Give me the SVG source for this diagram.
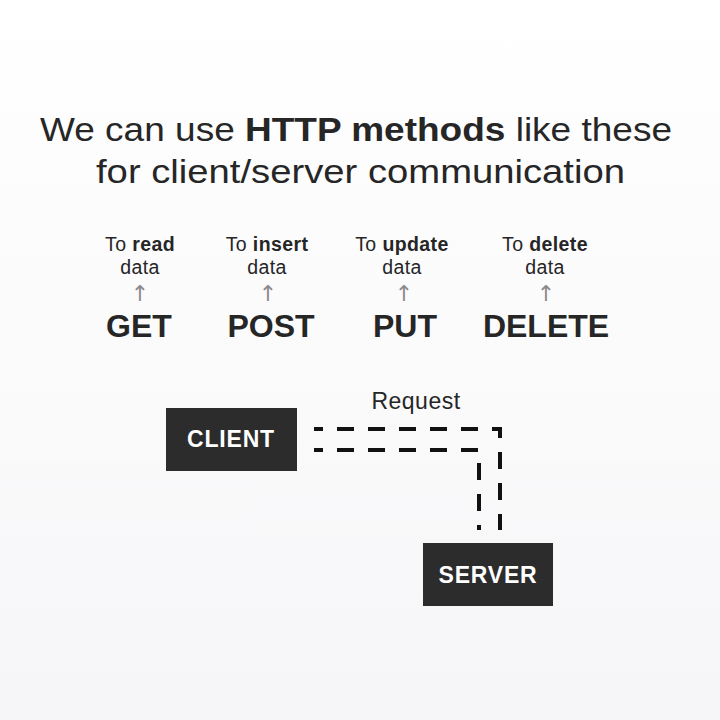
<svg xmlns="http://www.w3.org/2000/svg" width="720" height="720" viewBox="0 0 720 720">
<defs>
<linearGradient id="bg" x1="0" y1="0" x2="0" y2="1">
<stop offset="0" stop-color="#ffffff"/>
<stop offset="1" stop-color="#f6f6f8"/>
</linearGradient>
<style>
text{font-family:"Liberation Sans",Arial,sans-serif;fill:#262626}
.title{font-size:33px}
.b{font-weight:bold}
.lbl{font-size:19.5px;text-anchor:middle;letter-spacing:0.4px}
.arr{font-family:"DejaVu Sans",sans-serif;font-size:22px;text-anchor:middle;fill:#8a8a8a}
.m{font-size:32px;font-weight:bold;text-anchor:middle}
.box{fill:#2c2c2c}
.bt{font-size:23px;font-weight:bold;fill:#ffffff;text-anchor:middle;letter-spacing:0.8px}
.dash{fill:none;stroke:#111;stroke-width:4;stroke-dasharray:17 14}
</style>
</defs>
<rect width="720" height="720" fill="url(#bg)"/>
<g id="title">
<text class="title" x="40" y="141" textLength="632" lengthAdjust="spacingAndGlyphs">We can use <tspan class="b">HTTP methods</tspan> like these</text>
<text class="title" x="96" y="183" textLength="529" lengthAdjust="spacingAndGlyphs">for client/server communication</text>
</g>
<g id="get">
<text class="lbl" x="140" y="251">To <tspan class="b">read</tspan></text>
<text class="lbl" x="140" y="274">data</text>
<text class="arr" x="140" y="301">↑</text>
<text class="m" x="139" y="337">GET</text>
</g>
<g id="post">
<text class="lbl" x="267" y="251">To <tspan class="b">insert</tspan></text>
<text class="lbl" x="267" y="274">data</text>
<text class="arr" x="268" y="301">↑</text>
<text class="m" x="271" y="337">POST</text>
</g>
<g id="put">
<text class="lbl" x="402" y="251">To <tspan class="b">update</tspan></text>
<text class="lbl" x="402" y="274">data</text>
<text class="arr" x="404" y="301">↑</text>
<text class="m" x="405" y="337">PUT</text>
</g>
<g id="delete">
<text class="lbl" x="545" y="251">To <tspan class="b">delete</tspan></text>
<text class="lbl" x="545" y="274">data</text>
<text class="arr" x="546" y="301">↑</text>
<text class="m" x="546" y="337">DELETE</text>
</g>
<g id="connectors">
<path class="dash" d="M314 429 H500 V530" stroke-dashoffset="8"/>
<path class="dash" d="M314 450 H479 V530" stroke-dashoffset="8"/>
<text x="416" y="409" font-size="23" text-anchor="middle" letter-spacing="0.5">Request</text>
</g>
<g id="client">
<rect class="box" x="166" y="408" width="131" height="63"/>
<text class="bt" x="231" y="447">CLIENT</text>
</g>
<g id="server">
<rect class="box" x="423" y="543" width="130" height="63"/>
<text class="bt" x="488" y="583">SERVER</text>
</g>
</svg>
